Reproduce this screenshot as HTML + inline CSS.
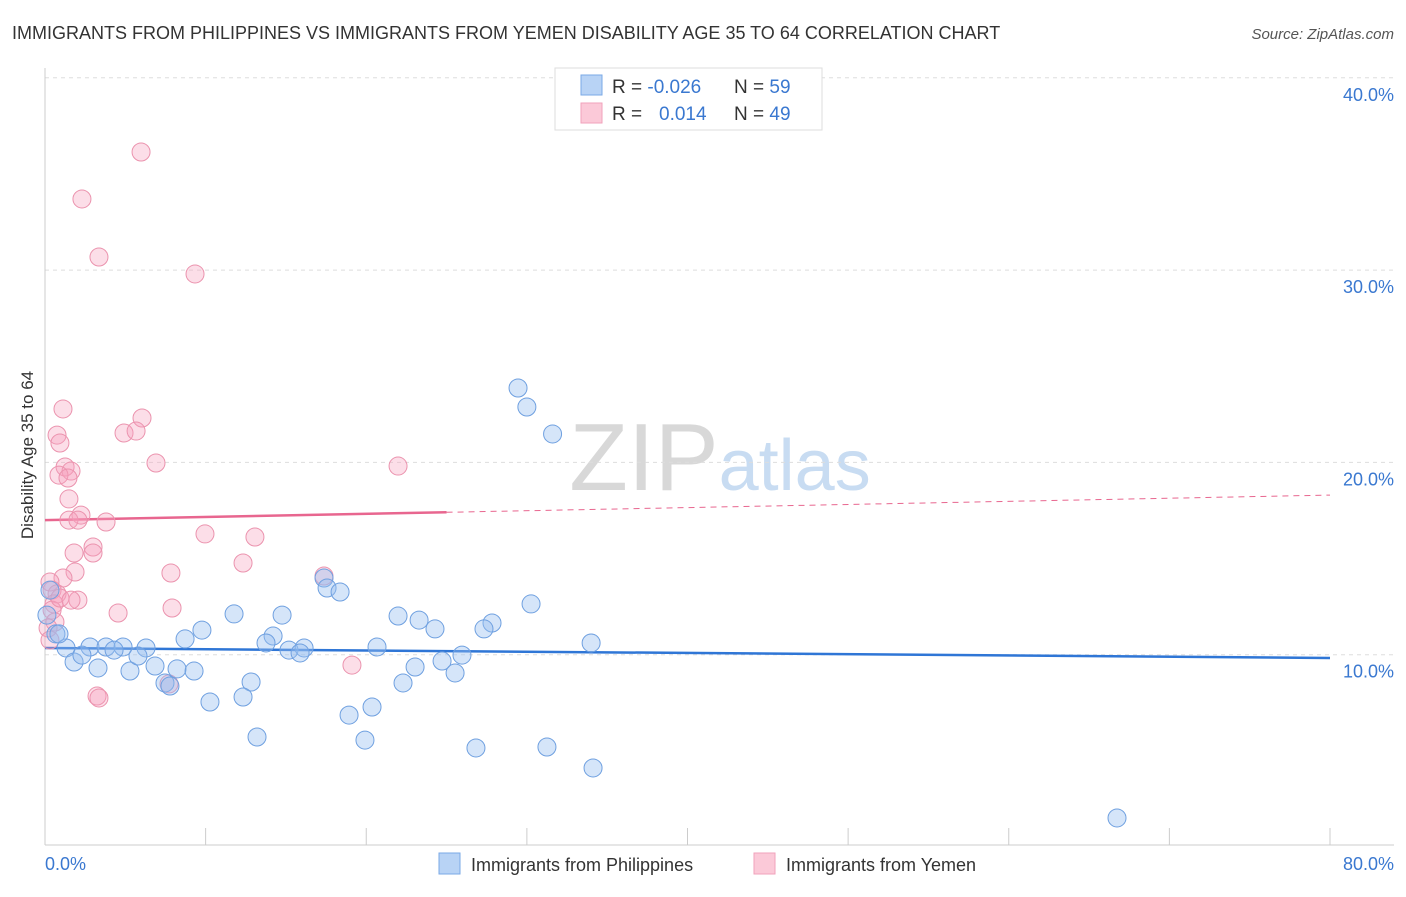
<!DOCTYPE html>
<html><head><meta charset="utf-8"><style>
body{margin:0;background:#fff;font-family:"Liberation Sans",sans-serif;}
svg text{font-family:"Liberation Sans",sans-serif;}
</style></head><body>
<svg id="chart" width="1406" height="892" xmlns="http://www.w3.org/2000/svg">
<text x="12" y="39" font-size="18" fill="#333">IMMIGRANTS FROM PHILIPPINES VS IMMIGRANTS FROM YEMEN DISABILITY AGE 35 TO 64 CORRELATION CHART</text>
<text x="1394" y="39" font-size="15" fill="#555" font-style="italic" text-anchor="end">Source: ZipAtlas.com</text>
<text x="720" y="490" font-size="96" text-anchor="middle" fill="#ddd" font-family="Liberation Serif"><tspan fill="#d8d8d8">ZIP</tspan><tspan fill="#c8dcf2" font-family="Liberation Sans" font-size="72">atlas</tspan></text>
<g id="grid"></g>
<g id="axes"></g>
<g id="trends"></g>
<g id="points"></g>
<text transform="translate(33,455) rotate(-90)" font-size="17" fill="#333" text-anchor="middle">Disability Age 35 to 64</text>
<text x="45" y="870" font-size="18" fill="#3a78d0">0.0%</text>
<text x="1394" y="870" font-size="18" fill="#3a78d0" text-anchor="end">80.0%</text>
<g>
<rect x="555" y="68" width="267" height="62" fill="#fff" stroke="#ddd"/>
<rect x="581" y="75" width="21" height="20" fill="#b8d3f5" stroke="#7aa8e6"/>
<rect x="581" y="103" width="21" height="20" fill="#fbc9d8" stroke="#f0a2bb"/>
<text x="612" y="93" font-size="19" fill="#333">R = <tspan fill="#3a78d0">-0.026</tspan></text>
<text x="734" y="93" font-size="19" fill="#333">N = <tspan fill="#3a78d0">59</tspan></text>
<text x="612" y="120" font-size="19" fill="#333">R = <tspan fill="#3a78d0" x="659">0.014</tspan></text>
<text x="734" y="120" font-size="19" fill="#333">N = <tspan fill="#3a78d0">49</tspan></text>
</g>
<g>
<rect x="439" y="853" width="21" height="21" fill="#b8d3f5" stroke="#7aa8e6"/>
<text x="471" y="871" font-size="18" fill="#333">Immigrants from Philippines</text>
<rect x="754" y="853" width="21" height="21" fill="#fbc9d8" stroke="#f0a2bb"/>
<text x="786" y="871" font-size="18" fill="#333">Immigrants from Yemen</text>
</g>
</svg>
<script>
const yTicks=[10,20,30,40];
const yTickLabels=["10.0%","20.0%","30.0%","40.0%"];
const xTicks=[0,10,20,30,40,50,60,70,80];
const blueX=[29.45,30.0,31.6,17.37,17.56,18.37,30.26,11.77,14.76,21.98,23.29,24.28,27.83,27.33,9.77,14.2,8.72,34.0,13.76,0.68,1.31,2.8,3.8,4.86,6.29,4.3,15.19,16.13,15.88,20.67,25.96,24.72,23.04,25.53,1.81,3.3,5.29,6.85,8.22,9.28,5.79,2.3,7.47,7.78,12.83,22.29,12.33,10.27,20.36,18.93,13.2,19.92,26.83,31.25,34.12,66.74,0.31,0.12,0.87];
const blueY=[23.87,22.88,21.48,13.99,13.47,13.26,12.64,12.12,12.06,12.01,11.8,11.34,11.65,11.34,11.28,10.97,10.82,10.61,10.61,11.08,10.35,10.4,10.4,10.4,10.35,10.24,10.24,10.35,10.09,10.4,9.98,9.67,9.36,9.05,9.62,9.31,9.15,9.41,9.26,9.15,9.93,9.98,8.53,8.37,8.58,8.53,7.8,7.54,7.28,6.86,5.72,5.56,5.15,5.2,4.11,1.51,13.36,12.06,11.08];
const pinkX=[5.98,2.3,3.36,9.34,1.12,6.04,0.75,4.92,5.67,0.93,6.91,21.98,1.25,1.62,0.87,1.43,1.49,2.24,1.49,2.05,3.8,9.96,13.07,2.99,1.81,2.99,12.33,1.87,7.84,1.12,0.31,0.44,0.75,2.05,0.56,4.55,7.91,0.44,0.62,0.19,17.37,19.11,7.72,3.24,3.36,0.31,0.93,1.62];
const pinkY=[36.14,33.7,30.68,29.8,22.78,22.31,21.42,21.53,21.63,21.01,19.97,19.81,19.76,19.55,19.34,19.19,18.1,17.26,17.0,17.0,16.9,16.28,16.12,15.6,15.29,15.29,14.77,14.3,14.25,13.99,13.78,13.36,13.16,12.84,12.64,12.17,12.43,12.32,11.7,11.39,14.09,9.46,8.48,7.85,7.75,10.76,12.95,12.84];
const blueTrend=[10.35,9.83];
const pinkTrend=[17.0,18.3];
const pinkSolidEnd=25;
const NS="http://www.w3.org/2000/svg";
const X0=45,X1=1330,Y0=847,YPER=19.23;
function sx(v){return X0+(X1-X0)*v/80;}
function sy(v){return Y0-v*YPER;}
function mk(tag,attrs,parent){const e=document.createElementNS(NS,tag);for(const k in attrs)e.setAttribute(k,attrs[k]);parent.appendChild(e);return e;}
const grid=document.getElementById('grid'),axes=document.getElementById('axes');
yTicks.forEach((t,i)=>{
 const l=mk('line',{x1:X0,x2:1394,y1:sy(t),y2:sy(t),stroke:'#ddd','stroke-dasharray':'4,4'},grid);
 
 
 const tx=mk('text',{x:1394,y:sy(t)+23,'font-size':18,fill:'#3a78d0','text-anchor':'end'},axes);
 tx.textContent=yTickLabels[i];
 
 
});
const xl=mk('line',{x1:X0,x2:1394,y1:845,y2:845,stroke:'#ccc'},axes);


const yl=mk('line',{x1:X0,x2:X0,y1:68,y2:845,stroke:'#ccc'},axes);


xTicks.forEach(t=>{
 const l=mk('line',{x1:sx(t),x2:sx(t),y1:828,y2:845,stroke:'#ccc'},axes);
 
 
});
const tr=document.getElementById('trends');
const pts=document.getElementById('points');
pinkX.forEach((x,i)=>{
 const c=mk('circle',{cx:sx(x),cy:sy(pinkY[i]),r:9,fill:'rgba(245,160,190,0.35)',stroke:'#eb93ae','stroke-width':1},pts);
 
 
});
blueX.forEach((x,i)=>{
 const c=mk('circle',{cx:sx(x),cy:sy(blueY[i]),r:9,fill:'rgba(150,190,240,0.4)',stroke:'#6fa0e0','stroke-width':1},pts);
 
 
});
const bt=mk('line',{x1:sx(0),x2:sx(80),y1:sy(blueTrend[0]),y2:sy(blueTrend[1]),stroke:'#2f76d6','stroke-width':2.5},tr);


const pm=pinkTrend[0]+(pinkTrend[1]-pinkTrend[0])*pinkSolidEnd/80;
const pt=mk('line',{x1:sx(0),x2:sx(pinkSolidEnd),y1:sy(pinkTrend[0]),y2:sy(pm),stroke:'#e8668f','stroke-width':2.5},tr);


const pd=mk('line',{x1:sx(pinkSolidEnd),x2:sx(80),y1:sy(pm),y2:sy(pinkTrend[1]),stroke:'#e8668f','stroke-width':1,'stroke-dasharray':'6,5'},tr);


</script>
</body></html>
